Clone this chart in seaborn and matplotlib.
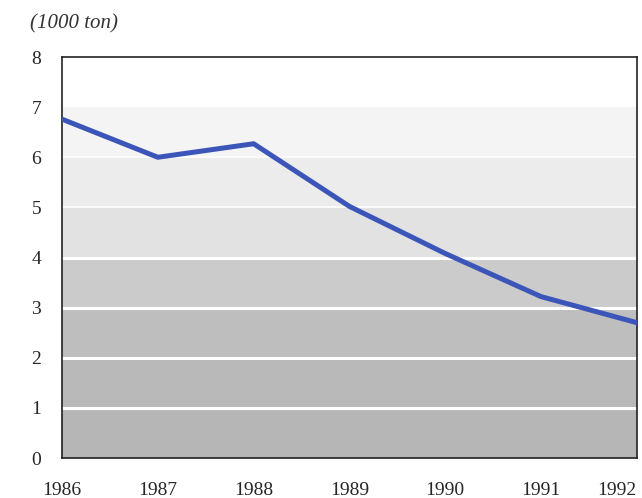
import matplotlib
matplotlib.use("Agg")
import matplotlib.pyplot as plt
import seaborn as sns
import pandas as pd

# data (1000 ton)
years = [1986, 1987, 1988, 1989, 1990, 1991, 1992]
values = [6.76, 6.0, 6.27, 5.02, 4.08, 3.22, 2.7]

# background band shades, from 0-1 up to 7-8
band_colors = ["#b6b6b6", "#b9b9b9", "#bebebe", "#cbcbcb",
               "#e2e2e2", "#ececec", "#f4f4f4", "#ffffff"]

sns.set_style("white")
plt.rcParams["font.family"] = ["Liberation Serif", "DejaVu Serif"]

df = pd.DataFrame({"year": years, "value": values})

fig = plt.figure(figsize=(6.42, 4.98), dpi=100)
ax = fig.add_axes([0.0966, 0.0803, 0.8954, 0.8052])

for i, c in enumerate(band_colors):
    ax.axhspan(i, i + 1, color=c, lw=0, zorder=0)
for y in range(1, 7):
    ax.axhline(y, color="white", lw=2.2 if y <= 4 else 1.2, zorder=1)

sns.lineplot(data=df, x="year", y="value", ax=ax, color="#3c55b9",
             linewidth=3.6, zorder=3)

ax.set_xlim(1986, 1992)
ax.set_ylim(0, 8)
ax.set_xticks(years)
ax.set_xticklabels([str(y) for y in years])
ax.get_xticklabels()[-1].set_horizontalalignment("right")
ax.set_yticks(range(0, 9))
ax.set_xlabel("")
ax.set_ylabel("")
ax.tick_params(axis="x", length=4, width=0.8, pad=13, labelsize=14)
ax.tick_params(axis="y", length=0, pad=15, labelsize=14)
for s in ax.spines.values():
    s.set_color("#222222")
    s.set_linewidth(1.2)

fig.text(0.046, 0.952, "(1000 ton)", fontsize=15, fontstyle="italic",
         ha="left", va="center", color="#333333")

fig.savefig("out.png", dpi=100)
plt.close()
